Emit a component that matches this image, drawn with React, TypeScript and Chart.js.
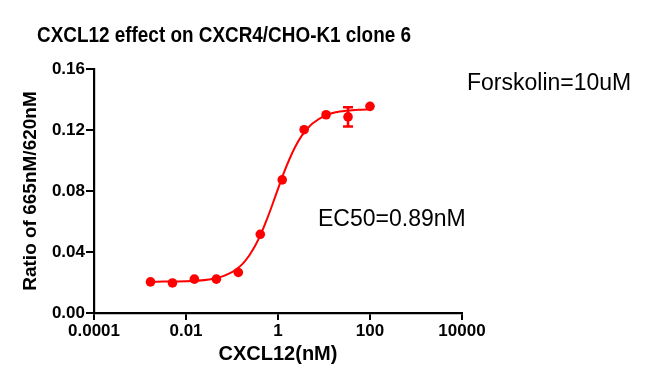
import React, { useEffect, useRef } from "react";
import { Chart, registerables } from "chart.js";

Chart.register(...registerables);

// ---- Text ----
const CHART_TITLE = "CXCL12 effect on CXCR4/CHO-K1 clone 6";
const X_TITLE = "CXCL12(nM)";
const Y_TITLE = "Ratio of 665nM/620nM";
const NOTE_FORSKOLIN = "Forskolin=10uM";
const NOTE_EC50 = "EC50=0.89nM";

// ---- Ticks ----
const xTickValues = [0.0001, 0.01, 1, 100, 10000];
const xTickLabels = ["0.0001", "0.01", "1", "100", "10000"];
const yTickValues = [0, 0.04, 0.08, 0.12, 0.16];
const yTickLabels = ["0.00", "0.04", "0.08", "0.12", "0.16"];

// ---- Measured points (mean ± error) ----
const concentrations = [0.00169, 0.00508, 0.0152, 0.0457, 0.137, 0.412, 1.235, 3.7, 11.1, 33.3, 100];
const ratioMean = [0.0204, 0.0197, 0.0222, 0.0222, 0.0266, 0.0516, 0.0873, 0.1202, 0.13, 0.1286, 0.1355];
const ratioErr = [0.0005, 0.0005, 0.0006, 0.0004, 0.0008, 0.001, 0.001, 0.001, 0.0008, 0.0063, 0.0008];

// ---- Fitted curve ----
const fitConc = [0.00169, 0.00316, 0.00562, 0.01, 0.0178, 0.0316, 0.0562, 0.1, 0.133, 0.178, 0.237, 0.316, 0.422, 0.562, 0.75, 1, 1.33, 1.78, 2.37, 3.16, 4.22, 5.62, 10, 17.8, 31.6, 56.2, 100];
const fitRatio = [0.0205, 0.0206, 0.0207, 0.0208, 0.0212, 0.022, 0.0235, 0.0268, 0.0293, 0.0329, 0.0377, 0.0439, 0.0516, 0.0607, 0.0708, 0.0814, 0.0917, 0.101, 0.109, 0.1155, 0.1205, 0.1243, 0.1291, 0.1316, 0.1327, 0.1333, 0.1336];

const RED = "#ff0000";
const FONT = "'Liberation Sans', Arial, Helvetica, sans-serif";
const POINT_R = 4.8;

const overlayPlugin = {
  id: "overlay",
  afterDatasetsDraw(chart: any) {
    const { ctx } = chart;
    const x = chart.scales.x;
    const y = chart.scales.y;
    ctx.save();
    ctx.strokeStyle = RED;
    ctx.lineWidth = 2.5;
    concentrations.forEach((c, i) => {
      const px = x.getPixelForValue(c);
      const top = y.getPixelForValue(ratioMean[i] + ratioErr[i]);
      const bot = y.getPixelForValue(ratioMean[i] - ratioErr[i]);
      if ((bot - top) / 2 <= POINT_R) return; // hidden behind the marker
      ctx.beginPath();
      ctx.moveTo(px, top);
      ctx.lineTo(px, bot);
      ctx.moveTo(px - 5, top);
      ctx.lineTo(px + 5, top);
      ctx.moveTo(px - 5, bot);
      ctx.lineTo(px + 5, bot);
      ctx.stroke();
    });
    ctx.restore();
  },
  afterDraw(chart: any) {
    const { ctx } = chart;
    ctx.save();
    ctx.fillStyle = "#000";
    ctx.textBaseline = "alphabetic";
    ctx.textAlign = "left";
    // title (condensed bold)
    ctx.font = `bold 22.5px ${FONT}`;
    const w = ctx.measureText(CHART_TITLE).width;
    const sx = 374 / w;
    ctx.save();
    ctx.translate(37, 41.5);
    ctx.scale(sx, 1);
    ctx.fillText(CHART_TITLE, 0, 0);
    ctx.restore();
    // notes
    ctx.font = `23px ${FONT}`;
    ctx.fillText(NOTE_FORSKOLIN, 467, 90);
    ctx.fillText(NOTE_EC50, 318, 226);
    ctx.restore();
  },
};

export default function App() {
  const ref = useRef<HTMLCanvasElement | null>(null);

  useEffect(() => {
    if (!ref.current) return;
    const chart = new Chart(ref.current, {
      type: "scatter",
      data: {
        datasets: [
          {
            label: "fit",
            data: fitConc.map((c, i) => ({ x: c, y: fitRatio[i] })),
            showLine: true,
            borderColor: RED,
            borderWidth: 2,
            pointRadius: 0,
            tension: 0.3,
            fill: false,
          },
          {
            label: "data",
            data: concentrations.map((c, i) => ({ x: c, y: ratioMean[i] })),
            showLine: false,
            backgroundColor: RED,
            borderColor: RED,
            pointRadius: POINT_R,
            pointBorderWidth: 0,
          },
        ],
      },
      options: {
        responsive: false,
        animation: false,
        devicePixelRatio: 1,
        layout: { padding: { left: 0, right: 186, top: 69, bottom: 0 } },
        plugins: {
          legend: { display: false },
          tooltip: { enabled: false },
          title: { display: false },
        },
        scales: {
          x: {
            type: "logarithmic",
            min: 0.0001,
            max: 10000,
            afterBuildTicks: (s: any) => {
              s.ticks = xTickValues.map((v) => ({ value: v }));
            },
            afterFit: (s: any) => {
              s.height = 76;
            },
            grid: {
              display: true,
              drawOnChartArea: false,
              drawTicks: true,
              tickLength: 7,
              color: "#000",
              lineWidth: 2,
            },
            border: { display: true, color: "#000", width: 2.2 },
            ticks: {
              color: "#000",
              padding: 1,
              maxRotation: 0,
              autoSkip: false,
              font: { family: FONT, size: 17, weight: "bold" },
              callback: (v: any) => {
                const i = xTickValues.indexOf(Number(v));
                return i >= 0 ? xTickLabels[i] : "";
              },
            },
            title: {
              display: true,
              text: X_TITLE,
              color: "#000",
              font: { family: FONT, size: 20, weight: "bold" },
              padding: { top: 0, bottom: 23 },
            },
          },
          y: {
            type: "linear",
            min: 0,
            max: 0.16,
            afterBuildTicks: (s: any) => {
              s.ticks = yTickValues.map((v) => ({ value: v }));
            },
            afterFit: (s: any) => {
              s.width = 94;
            },
            grid: {
              display: true,
              drawOnChartArea: false,
              drawTicks: true,
              tickLength: 8,
              color: "#000",
              lineWidth: 2,
            },
            border: { display: true, color: "#000", width: 2.2 },
            ticks: {
              color: "#000",
              padding: 1,
              font: { family: FONT, size: 17, weight: "bold" },
              callback: (v: any) => {
                const i = yTickValues.indexOf(Number(v));
                return i >= 0 ? yTickLabels[i] : "";
              },
            },
            title: {
              display: true,
              text: Y_TITLE,
              color: "#000",
              font: { family: FONT, size: 19, weight: "bold" },
              padding: { top: 19, bottom: 0 },
            },
          },
        },
      },
      plugins: [overlayPlugin],
    });
    return () => chart.destroy();
  }, []);

  return (
    <div style={{ position: "fixed", left: 0, top: 0, width: 648, height: 389, background: "#fff" }}>
      <canvas ref={ref} width={648} height={389} style={{ display: "block" }} />
    </div>
  );
}
